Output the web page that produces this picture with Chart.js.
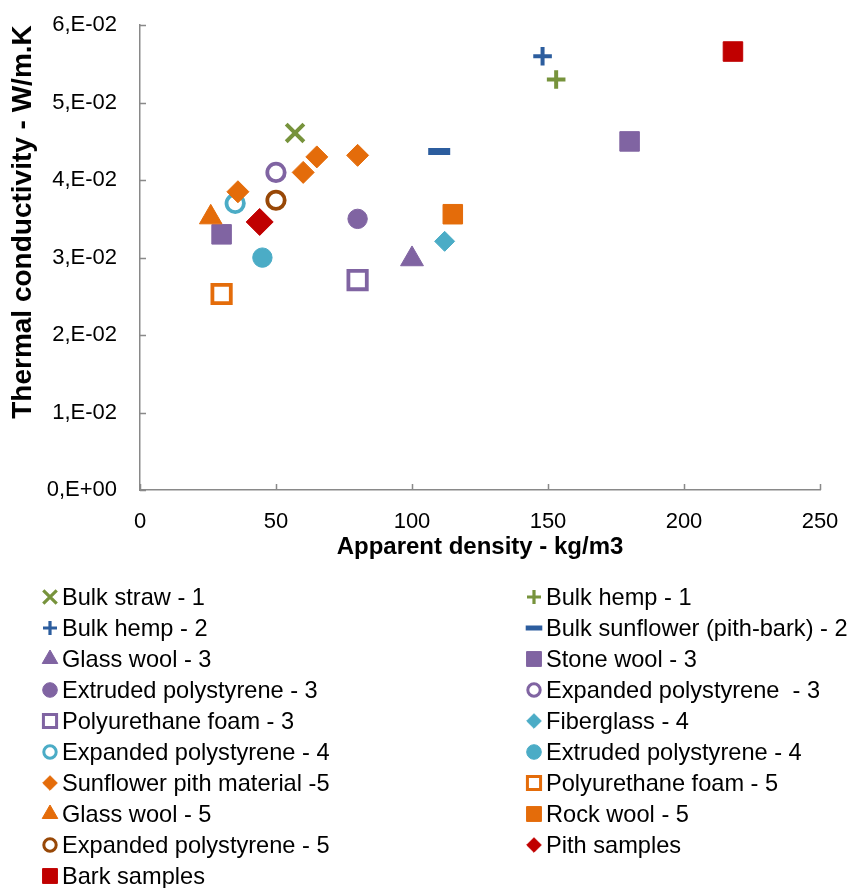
<!DOCTYPE html>
<html>
<head>
<meta charset="utf-8">
<script src="https://cdn.jsdelivr.net/npm/chart.js@4.4.1/dist/chart.umd.min.js"></script>
<style>
  html, body { margin: 0; padding: 0; background: #fff; }
  #wrap { position: relative; width: 855px; height: 888px; overflow: hidden; }
  #chart { position: absolute; left: 0; top: -3px; }
  #legend { position: absolute; left: 0; top: 0; width: 855px; height: 888px;
            font-family: "Liberation Sans", Arial, sans-serif; font-size: 23.6px; color: #000; }
  .item { position: absolute; height: 31px; display: flex; align-items: center; white-space: pre; }
  .item canvas { display: block; }
</style>
</head>
<body>
<div id="wrap">
  <canvas id="chart" width="855" height="573"></canvas>
  <div id="legend"></div>
</div>
<script>
// ===== data =====
const seriesNames = [
  'Bulk straw - 1', 'Bulk hemp - 1',
  'Bulk hemp - 2', 'Bulk sunflower (pith-bark) - 2',
  'Glass wool - 3', 'Stone wool - 3',
  'Extruded polystyrene - 3', 'Expanded polystyrene  - 3',
  'Polyurethane foam - 3', 'Fiberglass - 4',
  'Expanded polystyrene - 4', 'Extruded polystyrene - 4',
  'Sunflower pith material -5', 'Polyurethane foam - 5',
  'Glass wool - 5', 'Rock wool - 5',
  'Expanded polystyrene - 5', 'Pith samples',
  'Bark samples'
];
// apparent density, kg/m3
const density = [
  [57], [153],
  [148], [110],
  [100], [30, 180],
  [80], [50],
  [80], [112],
  [35], [45],
  [36, 60, 65, 80], [30],
  [26], [115],
  [50], [44],
  [218]
];
// thermal conductivity, W/m.K
const conductivity = [
  [0.0461], [0.0530],
  [0.0560], [0.0437],
  [0.0298], [0.0330, 0.0450],
  [0.0350], [0.0410],
  [0.0271], [0.0321],
  [0.0370], [0.0300],
  [0.0385, 0.0410, 0.0430, 0.0432], [0.0253],
  [0.0352], [0.0356],
  [0.0374], [0.0346],
  [0.0566]
];
const xTicksMax = 250;
const yTicksMax = 0.06;

// ===== styles =====
const GREEN = '#77933C', BLUE = '#2C5D9E', PURPLE = '#8064A2', TEAL = '#4BACC6',
      ORANGE = '#E46C0A', BROWN = '#984807', RED = '#C00000';
const AXIS = '#898989';
const FONT = '"Liberation Sans", Arial, sans-serif';
const TICK = 6;

// shape, colour, radius/width on plot, radius/width in legend, open = white inside
const markers = [
  { s: 'crossRot', c: GREEN,  r: 12.5, w: 4,   lr: 9.5, lw: 3.2 },
  { s: 'cross',    c: GREEN,  r: 9.3,  w: 4,   lr: 7,   lw: 3.2 },
  { s: 'cross',    c: BLUE,   r: 9.3,  w: 4,   lr: 7,   lw: 3.2 },
  { s: 'line',     c: BLUE,   r: 11,   w: 7,   lr: 8.3, lw: 5 },
  { s: 'triangle', c: PURPLE, r: 13.2, w: 1,   lr: 9,   lw: 1 },
  { s: 'rect',     c: PURPLE, r: 13.8, w: 1,   lr: 10.5, lw: 1 },
  { s: 'circle',   c: PURPLE, r: 9.7,  w: 1,   lr: 7.3, lw: 1 },
  { s: 'circle',   c: PURPLE, r: 8.7,  w: 3.8, lr: 6.2, lw: 3, open: true },
  { s: 'rect',     c: PURPLE, r: 13,   w: 3.8, lr: 9.3, lw: 3, open: true },
  { s: 'rectRot',  c: TEAL,   r: 10,   w: 1,   lr: 7.3, lw: 1 },
  { s: 'circle',   c: TEAL,   r: 8.7,  w: 3.8, lr: 6.2, lw: 3, open: true },
  { s: 'circle',   c: TEAL,   r: 9.7,  w: 1,   lr: 7.3, lw: 1 },
  { s: 'rectRot',  c: ORANGE, r: 11,   w: 1,   lr: 7.3, lw: 1 },
  { s: 'rect',     c: ORANGE, r: 13,   w: 3.8, lr: 9.3, lw: 3, open: true },
  { s: 'triangle', c: ORANGE, r: 13,   w: 1,   lr: 9,   lw: 1 },
  { s: 'rect',     c: ORANGE, r: 13.8, w: 1,   lr: 10.5, lw: 1 },
  { s: 'circle',   c: BROWN,  r: 8.7,  w: 3.8, lr: 6.2, lw: 3, open: true },
  { s: 'rectRot',  c: RED,    r: 13.5, w: 1,   lr: 7.3, lw: 1 },
  { s: 'rect',     c: RED,    r: 13.8, w: 1,   lr: 10.5, lw: 1 }
];

// ===== chart =====
const datasets = seriesNames.map((name, i) => {
  const m = markers[i];
  return {
    label: name,
    data: density[i].map((x, j) => ({ x, y: conductivity[i][j] })),
    showLine: false,
    order: -i, // later series on top, like the original
    pointStyle: m.s,
    pointRadius: m.r,
    pointHoverRadius: m.r,
    pointBorderWidth: m.w,
    pointHoverBorderWidth: m.w,
    pointBorderColor: m.c,
    pointBackgroundColor: m.open ? '#fff' : m.c
  };
});

// tick marks point into the plot area
const innerTicks = {
  id: 'innerTicks',
  beforeDatasetsDraw(chart) {
    const { ctx, chartArea: a, scales: { x, y } } = chart;
    ctx.save();
    ctx.strokeStyle = AXIS;
    ctx.lineWidth = 1.5;
    ctx.beginPath();
    x.ticks.forEach(t => {
      const px = Math.round(x.getPixelForValue(t.value)) + 0.5;
      ctx.moveTo(px, a.bottom); ctx.lineTo(px, a.bottom - TICK);
    });
    y.ticks.forEach(t => {
      const py = Math.round(y.getPixelForValue(t.value)) + 0.5;
      ctx.moveTo(a.left, py); ctx.lineTo(a.left + TICK, py);
    });
    ctx.stroke();
    ctx.restore();
  }
};

Chart.defaults.font.family = FONT;
Chart.defaults.color = '#000';

const chart = new Chart(document.getElementById('chart'), {
  type: 'scatter',
  data: { datasets },
  plugins: [innerTicks],
  options: {
    responsive: false,
    animation: false,
    devicePixelRatio: 1,
    layout: { padding: { top: 10, right: 35, left: 0, bottom: 0 } },
    plugins: { legend: { display: false }, tooltip: { enabled: false } },
    scales: {
      x: {
        type: 'linear', min: 0, max: xTicksMax,
        ticks: { stepSize: 50, padding: 11, font: { size: 22 }, color: '#000' },
        grid: { display: false },
        border: { display: true, color: AXIS, width: 1.5 },
        title: { display: true, text: 'Apparent density - kg/m3', color: '#000',
                 font: { size: 24, weight: 'bold' }, padding: { top: 0, bottom: 8 } },
        afterFit: s => { s.height = 80; }
      },
      y: {
        type: 'linear', min: 0, max: yTicksMax,
        ticks: {
          stepSize: 0.01, padding: 15, font: { size: 22 }, color: '#000',
          callback: v => {
            const n = Math.round(v * 100);
            return n === 0 ? '0,E+00' : n + ',E-02';
          }
        },
        grid: { display: false },
        border: { display: true, color: AXIS, width: 1.5 },
        title: { display: true, text: 'Thermal conductivity - W/m.K', color: '#000', align: 'end',
                 font: { size: 28, weight: 'bold' }, padding: { top: 6, bottom: 0 } },
        afterFit: s => { s.width = 140; }
      }
    }
  }
});

// ===== legend (two columns, read row by row) =====
const legendEl = document.getElementById('legend');
const colMarkerX = [50, 534];
const colTextX = [62, 546];
const rowTop = 597;
const rowStep = 31;

function drawMarker(ctx, m, x, y) {
  ctx.fillStyle = m.open ? '#fff' : m.c;
  ctx.strokeStyle = m.c;
  ctx.lineWidth = m.lw;
  if (Chart.helpers && Chart.helpers.drawPoint) {
    Chart.helpers.drawPoint(ctx, { pointStyle: m.s, rotation: 0, radius: m.lr, borderWidth: m.lw }, x, y);
  }
}

seriesNames.forEach((name, i) => {
  const col = i % 2, row = Math.floor(i / 2);
  const item = document.createElement('div');
  item.className = 'item';
  item.style.left = (colMarkerX[col] - 10) + 'px';
  item.style.top = (rowTop + row * rowStep - 15.5) + 'px';
  const cv = document.createElement('canvas');
  cv.width = 20; cv.height = 20;
  drawMarker(cv.getContext('2d'), markers[i], 10, 10);
  const span = document.createElement('span');
  span.style.marginLeft = (colTextX[col] - colMarkerX[col] - 10) + 'px';
  span.textContent = name;
  item.appendChild(cv);
  item.appendChild(span);
  legendEl.appendChild(item);
});
</script>
</body>
</html>
